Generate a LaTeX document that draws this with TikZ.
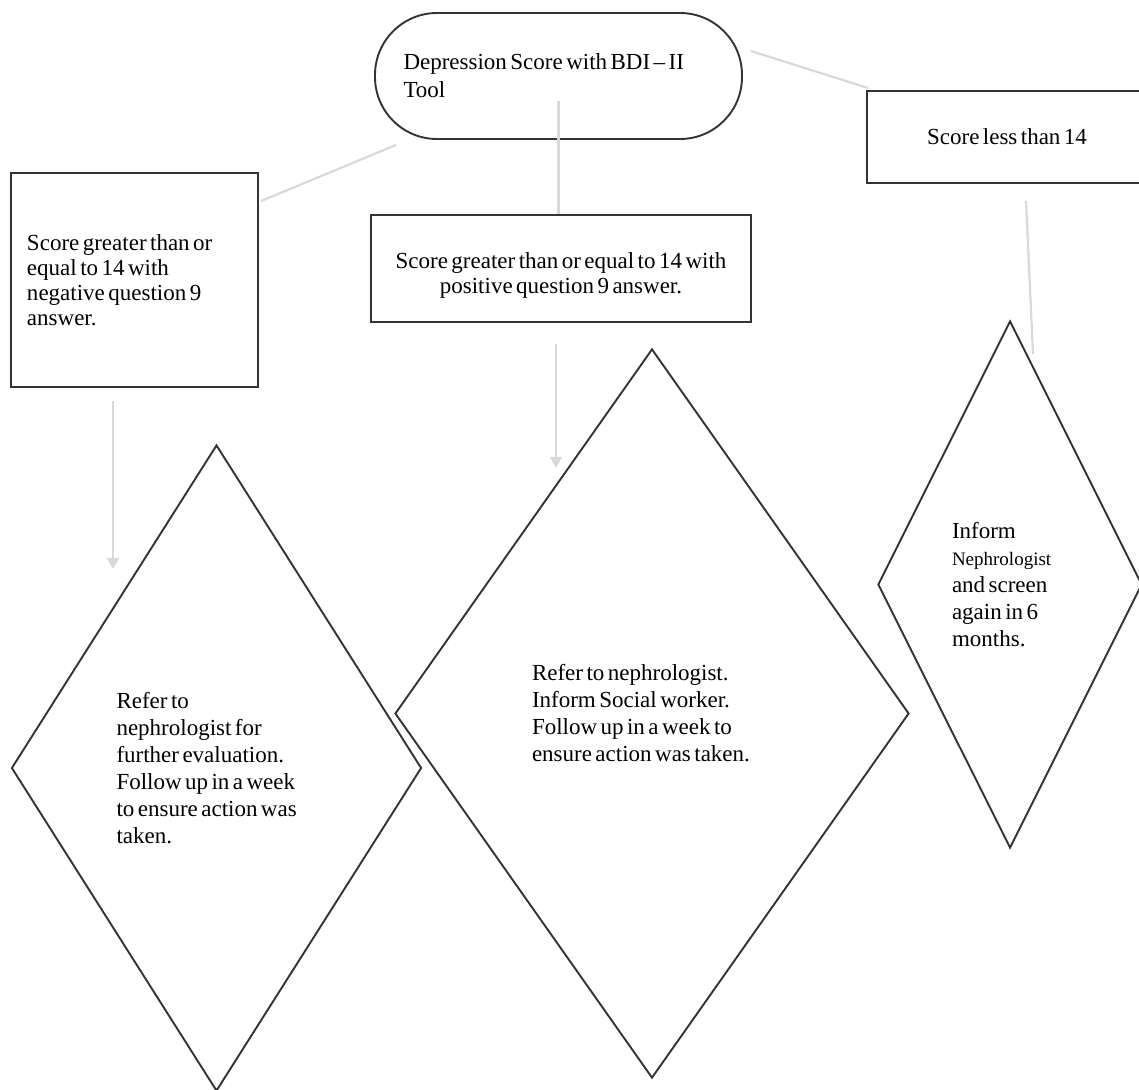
\documentclass[tikz,border=0pt]{standalone}
\usepackage{fontspec}
\setmainfont{Liberation Serif}[WordSpace=0.6]
\usetikzlibrary{shapes.geometric,arrows.meta,calc}

\begin{document}
\begin{tikzpicture}[x=1pt, y=-1pt,
  outline/.style={draw=black!80, line width=1.9pt},
  box/.style={outline, rectangle, inner sep=0pt, font=\fontsize{23}{25}\selectfont},
  choice/.style={outline, diamond, aspect=1, inner sep=0pt, align=flush left, font=\fontsize{23}{27}\selectfont},
  link/.style={draw=black!15, line width=2.2pt},
  tip/.style={-{Triangle[width=12pt,length=11pt]}}]
  \useasboundingbox (0,0) rectangle (1139,1089);
  \clip (0,0) rectangle (1139,1089);

  % Start
  \node[box, rounded corners=62pt, minimum width=367pt, minimum height=126pt,
        text width=310pt, align=flush left, font=\fontsize{23}{28}\selectfont] (score) at (558.5,76)
        {Depression Score with BDI – II\\Tool};

  % Outcomes
  \node[box, minimum width=247pt, minimum height=214pt, text width=215pt, align=flush left]
        (neg) at (134.5,280) {Score greater than or\\equal to 14 with\\negative question 9\\answer.};
  \node[box, minimum width=380pt, minimum height=107pt, align=center, text height=55pt]
        (pos) at (561,268.5) {Score greater than or equal to 14 with\\positive question 9 answer.};
  \node[box, minimum width=280pt, minimum height=92pt] (low) at (1007,137) {Score less than 14};

  % Actions
  \node[choice, minimum width=410pt, minimum height=646pt, text width=200pt]
        (negact) at (216.5,768) {Refer to\\nephrologist for\\further evaluation.\\Follow up in a week\\to ensure action was\\taken.};
  \node[choice, minimum width=514pt, minimum height=729pt, text width=240pt]
        (posact) at (652,713.5) {Refer to nephrologist.\\Inform Social worker.\\Follow up in a week to\\ensure action was taken.};
  \node[choice, minimum width=264pt, minimum height=527pt, text width=116pt]
        (lowact) at (1010,584.5) {Inform\\{\fontsize{19}{20}\selectfont Nephrologist}\\and screen\\again in 6\\months.};

  % Links
  \draw[link] ($(score.south west)+(22,5)$) -- ($(neg.north east)+(2,29)$);
  \draw[link] ($(score.center)+(0,25)$) -- (score.center |- pos.north);
  \draw[link] ($(score.east)+(8,-25)$) -- ($(low.north west)+(2,-2)$);
  \draw[link, tip] ($(neg.south)+(-21.5,13)$) -- ($(neg.south)+(-21.5,181)$);
  \draw[link, tip] ($(pos.south)+(-5,21)$) -- ($(pos.south)+(-5,145)$);
  \draw[link] ($(low.south)+(19,17)$) -- ($(low.south)+(26,170)$);
\end{tikzpicture}
\end{document}
